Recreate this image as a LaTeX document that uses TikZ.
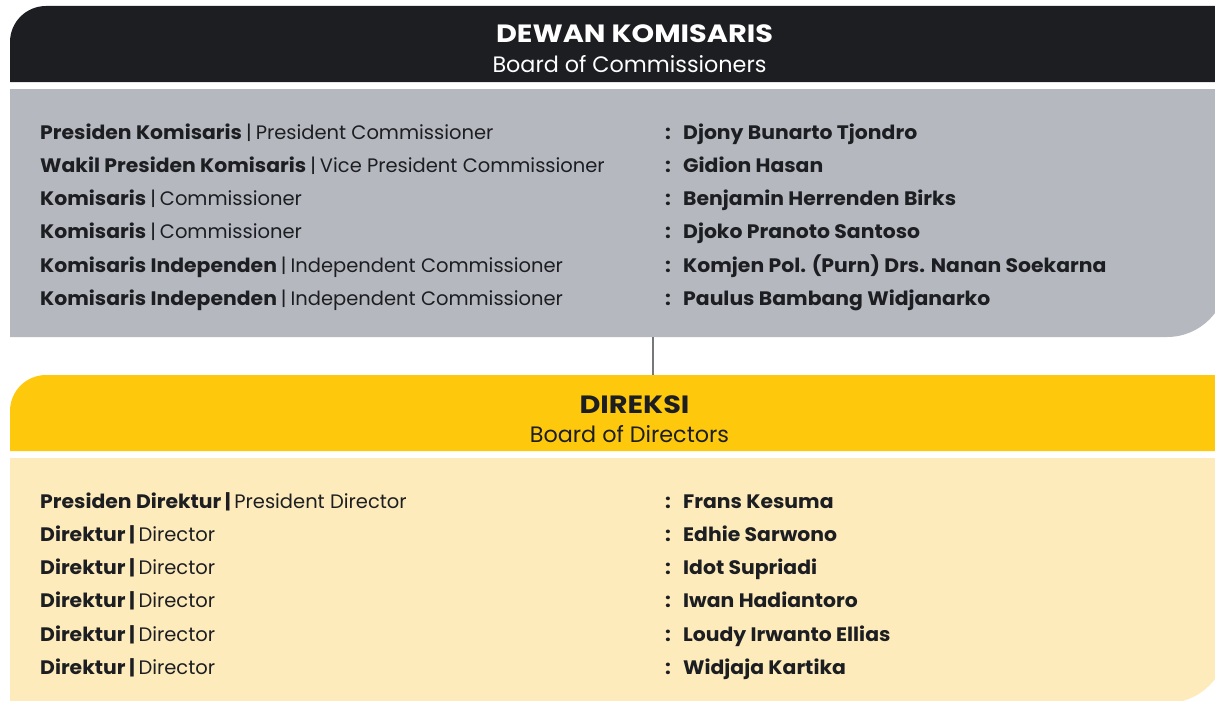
\documentclass[tikz,border=0pt]{standalone}
\usepackage{fontspec}
\setmainfont{Poppins}[BoldFeatures={FakeStretch=1.045}]
\newfontfamily\titlefont{Poppins}[FakeStretch=1.15]
\definecolor{darkhead}{HTML}{1C1E22}
\definecolor{graybody}{HTML}{B5B8BF}
\definecolor{yellowhead}{HTML}{FEC90C}
\definecolor{yellowbody}{HTML}{FEEBBB}
\definecolor{txt}{HTML}{1C1E22}
\definecolor{connector}{HTML}{76777A}
\newcommand{\thinbar}{\hspace{4pt}|\hspace{4pt}}
\newcommand{\boldbar}{\hspace*{3.5pt}\textbf{|}\hspace*{3.5pt}}
\tikzset{
  lbl/.style={anchor=base west, inner sep=0pt, text=txt, font=\fontsize{19.5}{20}\selectfont},
  colon/.style={anchor=base west, inner sep=0pt, text=txt, font=\fontsize{19.5}{20}\selectfont\bfseries},
  ttl/.style={anchor=base, inner sep=0pt, font=\titlefont\fontsize{25}{26}\selectfont\bfseries},
  sub/.style={anchor=base, inner sep=0pt, font=\fontsize{22.3}{23}\selectfont},
}
\begin{document}
\begin{tikzpicture}[x=1pt,y=-1pt]
\useasboundingbox (0,0) rectangle (1215,701);
\clip (0,0) rectangle (1215,701);
% shapes
\fill[darkhead] (10,82) [rounded corners=36pt] -- (10,6) [sharp corners] -- (1240,6) -- (1240,82) -- cycle;
\fill[graybody] (10,89) -- (1227,89) [rounded corners=60pt] -- (1227,337) [sharp corners] -- (10,337) -- cycle;
\fill[yellowhead] (10,451) [rounded corners=36pt] -- (10,375) [sharp corners] -- (1240,375) -- (1240,451) -- cycle;
\fill[yellowbody] (10,458) -- (1227,458) [rounded corners=60pt] -- (1227,703) [sharp corners] -- (10,703) -- cycle;
% headers
\node[ttl, text=white] (t1) at (634.5,42.5) {DEWAN KOMISARIS};
\node[sub, text=white] (s1) at (629.5,73) {Board of Commissioners};
\node[ttl, text=txt] (t2) at (634.5,413) {DIREKSI};
\node[sub, text=txt] (s2) at (629.5,442) {Board of Directors};
% connector
\coordinate (c1) at (653,337);
\coordinate (c2) at (653,375);
\draw[connector, line width=1.4pt] (c1) -- (c2);
% commissioners
\foreach \y/\a/\b/\n [count=\i] in {
 139/Presiden Komisaris/President Commissioner/Djony Bunarto Tjondro,
 172/Wakil Presiden Komisaris/Vice President Commissioner/Gidion Hasan,
 205/Komisaris/Commissioner/Benjamin Herrenden Birks,
 238/Komisaris/Commissioner/Djoko Pranoto Santoso,
 272/Komisaris Independen/Independent Commissioner/Komjen Pol. (Purn) Drs. Nanan Soekarna,
 305/Komisaris Independen/Independent Commissioner/Paulus Bambang Widjanarko}{
  \node[lbl] (k\i) at (40,\y) {\textbf{\a}\thinbar\b};
  \node[colon] (kc\i) at (665,\y) {:};
  \node[colon] (kn\i) at (683,\y) {\n};
}
% directors
\foreach \y/\a/\b/\n [count=\i] in {
 508/Presiden Direktur/President Director/Frans Kesuma,
 541/Direktur/Director/Edhie Sarwono,
 574/Direktur/Director/Idot Supriadi,
 607/Direktur/Director/Iwan Hadiantoro,
 641/Direktur/Director/Loudy Irwanto Ellias,
 674/Direktur/Director/Widjaja Kartika}{
  \node[lbl] (d\i) at (40,\y) {\textbf{\a}\boldbar\b};
  \node[colon] (dc\i) at (665,\y) {:};
  \node[colon] (dn\i) at (683,\y) {\n};
}
\end{tikzpicture}
\end{document}
